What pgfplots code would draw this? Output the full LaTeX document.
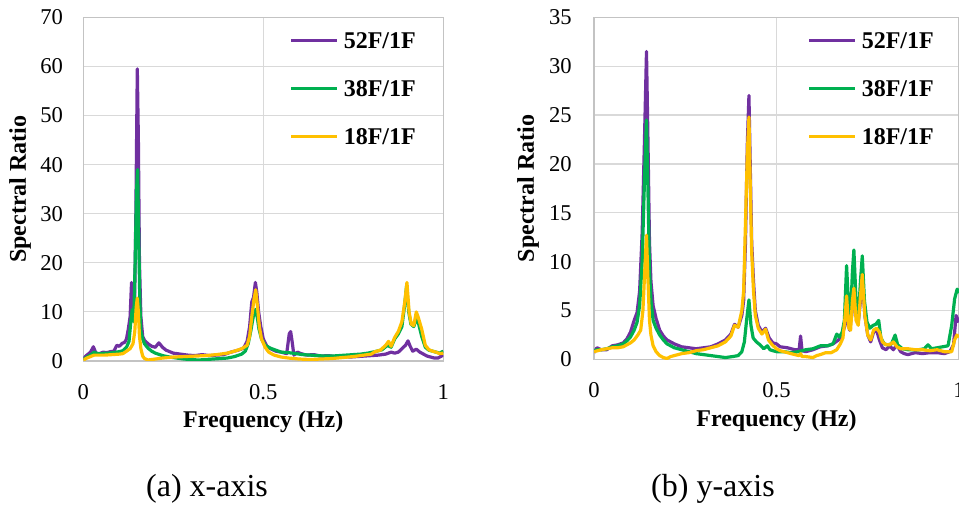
\documentclass[border=0pt]{standalone}
\usepackage{fontspec}
\setmainfont{Liberation Serif}
\usepackage{pgfplots}
\pgfplotsset{compat=1.18}

\definecolor{c52}{RGB}{112,48,160}
\definecolor{c38}{RGB}{0,176,80}
\definecolor{c18}{RGB}{255,192,0}
\definecolor{gridgray}{RGB}{217,217,217}

\pgfplotsset{
  specaxis/.style={
    scale only axis,
    xmin=0, xmax=1, ymin=0,
    xtick={0,0.5,1},
    grid=major,
    grid style={draw=gridgray, line width=0.6pt},
    axis line style={draw=gridgray!90!black, line width=0.6pt},
    major tick length=0pt,
    /pgf/number format/assume math mode=true,
    tick label style={font=\fontsize{11.3}{13}\selectfont, inner sep=0pt},
    xticklabel style={anchor=center, yshift=-15.5pt},
    every axis x label/.style={at={(axis description cs:0.5,0)}, anchor=center,
      yshift=-30.5pt, font=\bfseries\fontsize{12}{14}\selectfont},
    legend style={anchor=north west, yshift=-7.3pt, draw=none, fill=none,
      inner sep=0pt, row sep=16pt,
      font=\bfseries\fontsize{12}{14}\selectfont,
      nodes={inner sep=0pt, text height=8pt, text depth=0pt},
      /tikz/every odd column/.append style={column sep=2.5pt}},
    legend cell align=left,
    legend image code/.code={\draw[##1, line width=1.6pt] (0pt,0pt) -- (23pt,0pt);},
    every axis plot/.append style={line width=1.6pt, line join=round, mark=none},
  }
}

\begin{document}
\begin{tikzpicture}
\useasboundingbox (0pt,0pt) rectangle (479.5pt,252pt);

% (a) x-axis
\begin{axis}[specaxis,
  at={(41.65pt,71.5pt)}, anchor=south west,
  width=180pt, height=171.85pt,
  ymax=70, ytick={0,10,...,70},
  yticklabel style={anchor=east, xshift=-10pt},
  every axis y label/.style={at={(axis description cs:0,0.5)}, xshift=-31.65pt,
    rotate=90, anchor=center, font=\bfseries\fontsize{12}{14}\selectfont},
  xlabel={Frequency (Hz)}, ylabel={Spectral Ratio},
  legend style={at={(0.572,1)}},
]
\addplot[c52] coordinates {
(0,0.5) (0.01,1.2) (0.02,1.8) (0.028,2.9) (0.035,1.6) (0.045,1.5) (0.055,1.8)
(0.065,1.7) (0.075,1.9) (0.085,2.0) (0.093,3.2) (0.1,3.0) (0.108,3.6) (0.115,3.8)
(0.12,4.5) (0.125,6.5) (0.13,9) (0.134,16) (0.138,10) (0.142,9) (0.146,30)
(0.15,59.5) (0.153,45) (0.156,20) (0.16,9) (0.165,5) (0.17,4.2) (0.18,3.5)
(0.19,3.0) (0.2,2.8) (0.21,3.7) (0.22,2.8) (0.23,2.2) (0.25,1.6) (0.27,1.4)
(0.29,1.2) (0.31,1.1) (0.33,1.3) (0.35,1.1) (0.37,1.2) (0.39,1.3) (0.41,1.8)
(0.43,2.2) (0.445,2.6) (0.455,4) (0.462,7) (0.468,12) (0.473,13) (0.478,16)
(0.482,14) (0.487,10) (0.493,7) (0.5,4.5) (0.51,3) (0.52,2.5) (0.535,2)
(0.55,1.8) (0.565,1.5) (0.572,5.5) (0.576,6) (0.58,4) (0.585,1.2) (0.595,1.8)
(0.605,1.5) (0.62,1.2) (0.64,1.3) (0.66,1.0) (0.68,1.1) (0.7,0.9) (0.72,1.0)
(0.74,0.8) (0.76,0.9) (0.78,1.0) (0.8,1.1) (0.82,1.2) (0.84,1.4) (0.855,1.8)
(0.865,1.6) (0.875,1.8) (0.885,2.5) (0.895,3.2) (0.902,4.1) (0.908,3) (0.915,2.0)
(0.925,2.4) (0.935,1.8) (0.945,1.4) (0.955,1.0) (0.965,0.8) (0.975,0.6) (0.985,0.6)
(0.995,1.0) (1,1.2)
};
\addlegendentry{52F/1F}
\addplot[c38] coordinates {
(0,0.3) (0.01,0.8) (0.02,1.2) (0.03,1.8) (0.04,1.5) (0.05,1.5) (0.06,1.6)
(0.07,1.6) (0.08,1.7) (0.09,1.8) (0.1,1.9) (0.11,2.1) (0.12,2.8) (0.127,4)
(0.132,8) (0.136,10.5) (0.14,8) (0.144,20) (0.148,35) (0.151,39) (0.154,25)
(0.157,12) (0.16,6) (0.165,4.5) (0.17,3.5) (0.18,2.6) (0.19,2.0) (0.2,1.6)
(0.22,1.1) (0.24,0.8) (0.26,0.6) (0.28,0.4) (0.3,0.3) (0.32,0.2) (0.34,0.3)
(0.36,0.4) (0.38,0.5) (0.4,0.6) (0.42,0.9) (0.44,1.4) (0.45,2) (0.458,3.5)
(0.465,6) (0.472,9) (0.478,10.5) (0.483,9) (0.488,6.5) (0.495,4.5) (0.505,3.2)
(0.52,2.6) (0.535,2.2) (0.55,1.8) (0.57,1.7) (0.59,1.5) (0.61,1.3) (0.63,1.2)
(0.65,1.1) (0.67,1.0) (0.69,1.0) (0.71,1.1) (0.73,1.2) (0.75,1.3) (0.77,1.4)
(0.79,1.6) (0.81,1.9) (0.83,2.3) (0.845,3.2) (0.855,2.8) (0.865,4.5) (0.875,5.5)
(0.885,7) (0.892,11) (0.898,15.2) (0.904,10) (0.91,7.5) (0.918,7) (0.925,8.5)
(0.93,8) (0.94,5) (0.95,2.8) (0.96,2.2) (0.97,2.0) (0.98,1.8) (0.99,1.6) (1,2.0)
};
\addlegendentry{38F/1F}
\addplot[c18] coordinates {
(0,0.2) (0.01,0.6) (0.02,0.9) (0.03,1.2) (0.04,1.2) (0.06,1.2) (0.08,1.3)
(0.1,1.4) (0.11,1.5) (0.12,2) (0.13,2.5) (0.138,3.5) (0.143,6) (0.147,11)
(0.15,12.8) (0.153,10) (0.156,5) (0.16,2.5) (0.165,1.0) (0.17,0.5) (0.18,0.2)
(0.2,0.4) (0.22,0.6) (0.25,0.8) (0.28,0.9) (0.31,1.0) (0.34,1.1) (0.37,1.3)
(0.4,1.6) (0.42,2.0) (0.44,2.5) (0.455,3.2) (0.462,5) (0.468,9) (0.474,12.5)
(0.479,14.5) (0.484,11) (0.489,7) (0.495,4.5) (0.505,2.8) (0.515,1.8) (0.53,1.2)
(0.55,0.8) (0.57,0.6) (0.6,0.4) (0.63,0.3) (0.66,0.4) (0.69,0.5) (0.72,0.7)
(0.75,0.9) (0.78,1.2) (0.8,1.4) (0.81,1.9) (0.825,2.2) (0.84,3.2) (0.848,4)
(0.855,3) (0.865,4.8) (0.875,6) (0.885,8) (0.893,12) (0.899,16) (0.905,10)
(0.911,7.5) (0.918,7.2) (0.925,10) (0.93,9) (0.94,6.5) (0.95,3.2) (0.96,2.3)
(0.97,2.0) (0.98,1.8) (0.99,1.5) (1,1.6)
};
\addlegendentry{18F/1F}
\end{axis}

% (b) y-axis
\begin{axis}[specaxis,
  at={(297pt,72.25pt)}, anchor=south west,
  width=182.5pt, height=171.1pt,
  ymax=35, ytick={0,5,...,35},
  yticklabel style={anchor=east, xshift=-11pt},
  every axis y label/.style={at={(axis description cs:0,0.5)}, xshift=-33pt,
    rotate=90, anchor=center, font=\bfseries\fontsize{12}{14}\selectfont},
  xlabel={Frequency (Hz)}, ylabel={Spectral Ratio},
  legend style={at={(0.584,1)}},
]
\addplot[c52] coordinates {
(0,0.7) (0.008,1.2) (0.02,1.0) (0.035,1.0) (0.05,1.4) (0.065,1.5) (0.08,1.7)
(0.09,2.1) (0.1,2.8) (0.11,4.0) (0.118,4.8) (0.125,7) (0.132,13) (0.138,22)
(0.1438,31.5) (0.148,22) (0.152,12) (0.156,8) (0.162,5.5) (0.17,4.2) (0.18,3.0)
(0.19,2.4) (0.2,2.0) (0.22,1.6) (0.24,1.3) (0.26,1.2) (0.28,1.1) (0.3,1.2)
(0.32,1.3) (0.34,1.6) (0.36,2.0) (0.375,2.6) (0.385,3.6) (0.395,3.3) (0.405,4.5)
(0.41,6) (0.415,12) (0.42,22) (0.4245,27) (0.428,20) (0.432,12) (0.437,8)
(0.442,5) (0.45,3.5) (0.46,2.8) (0.47,3.2) (0.48,2.2) (0.49,1.7) (0.5,1.6)
(0.51,1.3) (0.53,1.2) (0.55,1.0) (0.562,1.0) (0.566,2.4) (0.57,0.9) (0.58,0.8)
(0.6,1.0) (0.62,1.3) (0.64,1.4) (0.655,1.6) (0.67,2.0) (0.68,2.6) (0.688,3.5)
(0.693,6.5) (0.7,3.0) (0.706,4.5) (0.712,7.3) (0.718,4.5) (0.724,3.8) (0.73,6.0)
(0.735,8.5) (0.742,4.5) (0.75,2.5) (0.758,1.8) (0.766,2.8) (0.774,3.0) (0.782,2.0)
(0.79,1.2) (0.8,1.0) (0.81,1.4) (0.82,1.0) (0.83,1.5) (0.84,0.8) (0.85,0.6)
(0.86,0.5) (0.87,0.6) (0.88,0.7) (0.9,0.6) (0.92,0.7) (0.94,0.7) (0.96,0.6)
(0.975,0.8) (0.985,1.5) (0.992,4.5) (1,3.8)
};
\addlegendentry{52F/1F}
\addplot[c38] coordinates {
(0,0.9) (0.01,1.0) (0.02,1.0) (0.035,1.1) (0.05,1.3) (0.065,1.4) (0.08,1.6)
(0.09,1.9) (0.1,2.3) (0.11,3.0) (0.118,3.8) (0.125,5.5) (0.132,10) (0.138,18)
(0.1438,24.5) (0.148,17) (0.152,9) (0.156,6) (0.162,4) (0.17,3.2) (0.18,2.5)
(0.19,2.0) (0.2,1.6) (0.22,1.2) (0.24,1.0) (0.26,0.8) (0.28,0.6) (0.3,0.5)
(0.32,0.4) (0.34,0.3) (0.36,0.2) (0.38,0.3) (0.395,0.4) (0.405,0.8) (0.412,1.8)
(0.418,4) (0.4245,6.1) (0.43,3.5) (0.436,2.2) (0.445,1.8) (0.455,1.5) (0.465,1.1)
(0.475,1.4) (0.482,1.0) (0.49,0.9) (0.5,0.8) (0.52,0.8) (0.54,0.7) (0.56,0.8)
(0.58,1.0) (0.6,1.1) (0.62,1.4) (0.64,1.4) (0.655,1.6) (0.665,2.6) (0.672,2.3)
(0.68,2.8) (0.686,4) (0.692,9.6) (0.698,5) (0.703,4.5) (0.708,9) (0.712,11.2)
(0.718,6) (0.724,4) (0.73,8) (0.735,10.6) (0.741,6) (0.748,3.8) (0.756,3.2)
(0.765,3.5) (0.772,3.6) (0.78,4.0) (0.786,2.2) (0.795,1.6) (0.805,1.5) (0.815,1.6)
(0.825,2.5) (0.832,1.5) (0.845,1.1) (0.86,1.0) (0.875,1.0) (0.89,1.0) (0.905,1.1)
(0.915,1.5) (0.925,1.1) (0.94,1.2) (0.955,1.3) (0.97,1.4) (0.98,3.5) (0.988,6.2)
(0.995,7.2) (1,6.8)
};
\addlegendentry{38F/1F}
\addplot[c18] coordinates {
(0,0.8) (0.01,0.9) (0.02,1.0) (0.035,1.1) (0.05,1.2) (0.065,1.2) (0.08,1.3)
(0.09,1.5) (0.1,1.7) (0.11,2.0) (0.12,2.5) (0.128,3.0) (0.134,5) (0.139,9)
(0.1438,12.7) (0.148,8) (0.152,4) (0.156,2.5) (0.162,1.4) (0.17,0.8) (0.18,0.4)
(0.19,0.2) (0.2,0.1) (0.21,0.3) (0.22,0.4) (0.24,0.6) (0.26,0.7) (0.28,0.9)
(0.3,1.0) (0.32,1.2) (0.34,1.4) (0.36,1.8) (0.375,2.4) (0.385,3.5) (0.395,3.3)
(0.405,5) (0.41,7) (0.415,14) (0.42,21) (0.4245,24.8) (0.428,18) (0.432,11)
(0.437,7) (0.442,4.5) (0.45,3.2) (0.46,2.6) (0.47,3.1) (0.478,2.0) (0.488,1.5)
(0.5,1.1) (0.51,0.9) (0.53,0.7) (0.55,0.5) (0.562,0.4) (0.566,0.6) (0.57,0.3)
(0.58,0.3) (0.6,0.2) (0.61,0.4) (0.62,0.5) (0.635,0.7) (0.65,0.7) (0.665,1.0)
(0.675,1.6) (0.682,2.2) (0.687,4) (0.692,6.5) (0.698,3.2) (0.703,3) (0.708,6)
(0.712,7.3) (0.718,4) (0.724,3.5) (0.73,6.5) (0.735,8.7) (0.742,4.5) (0.75,2.5)
(0.758,2.0) (0.766,3.0) (0.774,3.2) (0.782,2.8) (0.79,1.8) (0.8,1.5) (0.81,1.5)
(0.82,1.8) (0.83,1.3) (0.84,1.1) (0.86,1.1) (0.88,1.0) (0.9,1.0) (0.92,0.9)
(0.94,1.0) (0.96,0.8) (0.98,0.8) (0.988,2.0) (0.994,2.5) (1,2.3)
};
\addlegendentry{18F/1F}
\end{axis}

\node[font=\fontsize{16}{19}\selectfont] at (103.5pt,7.5pt) {(a) x-axis};
\node[font=\fontsize{16}{19}\selectfont] at (356.5pt,7.5pt) {(b) y-axis};
\end{tikzpicture}
\end{document}
